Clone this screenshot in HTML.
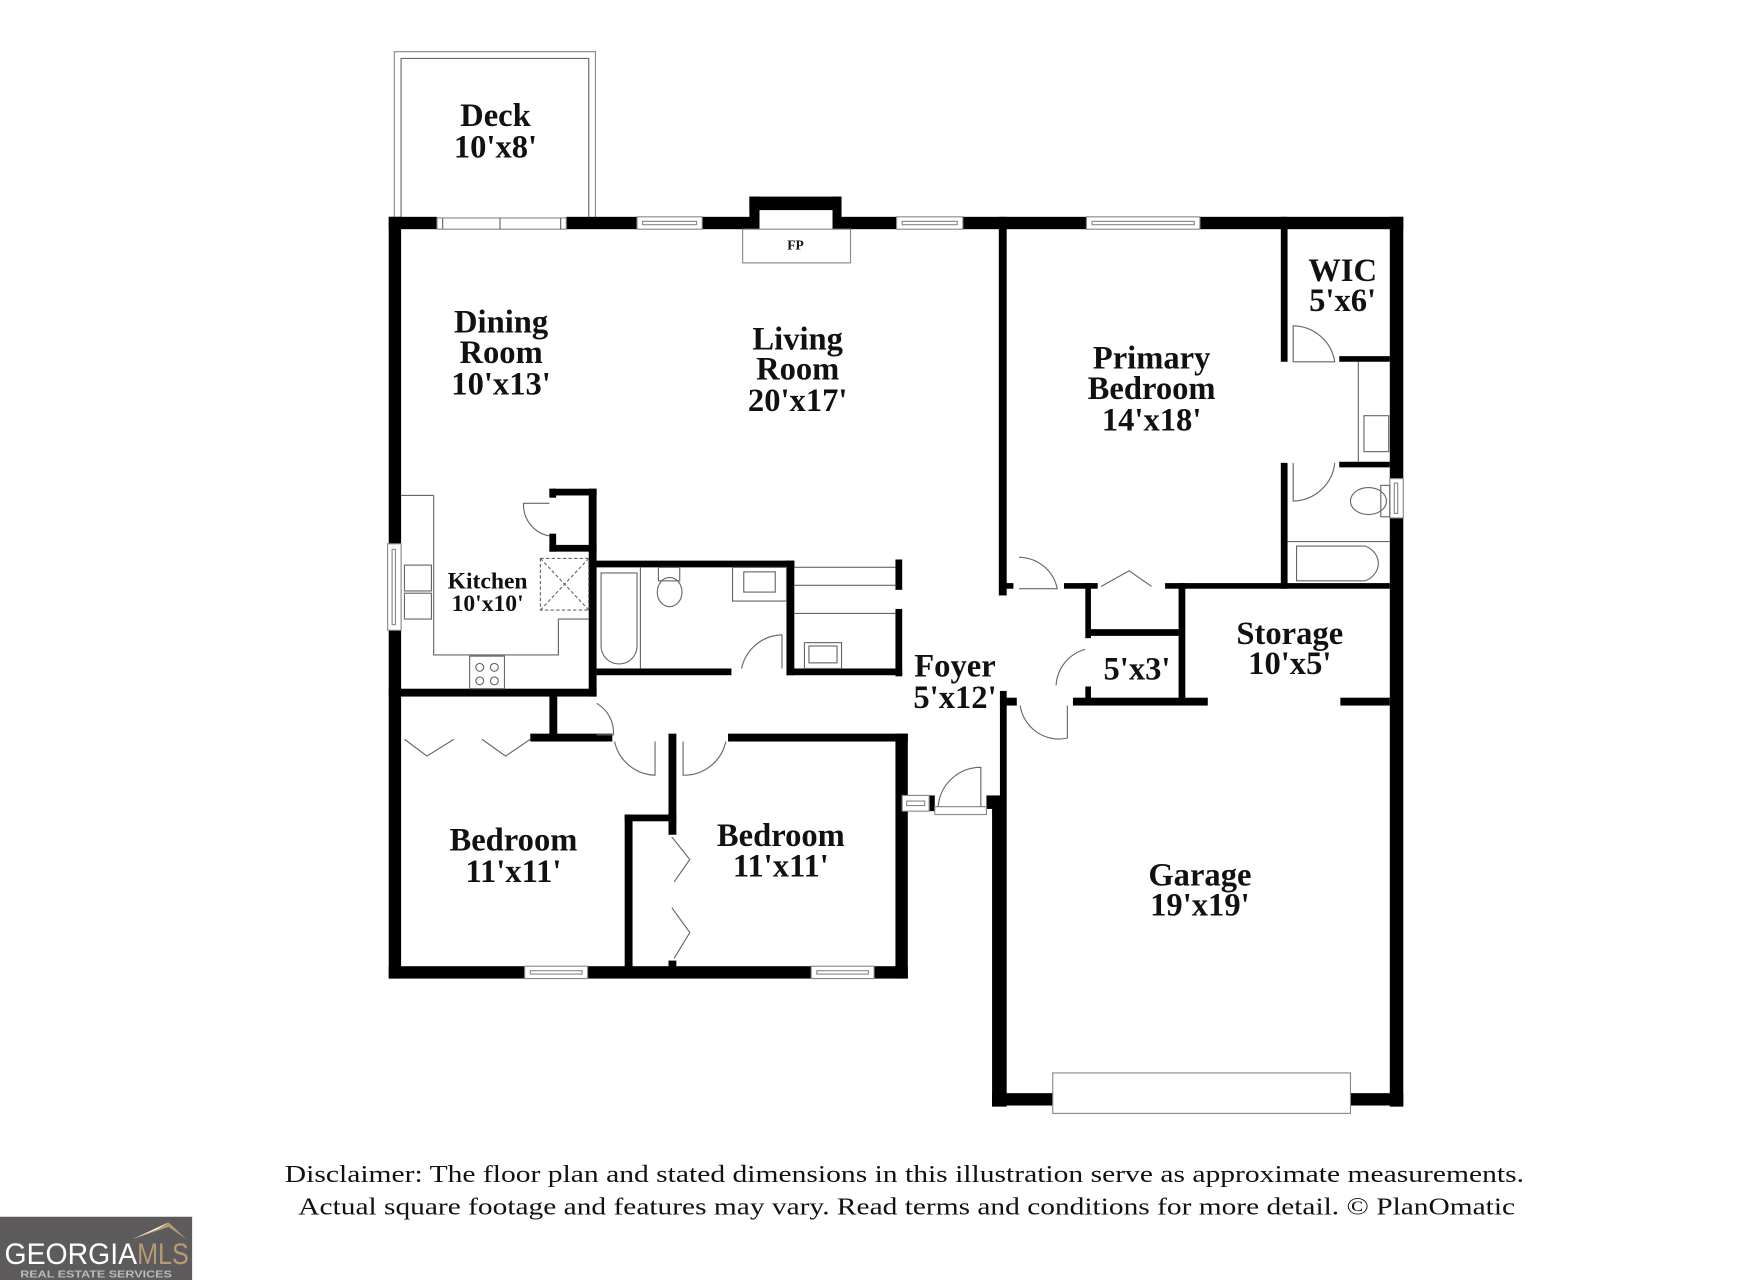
<!DOCTYPE html>
<html><head><meta charset="utf-8"><style>
html,body{margin:0;padding:0;background:#fff;width:1760px;height:1280px;overflow:hidden}
svg{display:block}
.t{font-family:"Liberation Serif",serif;font-weight:bold;fill:#111;text-anchor:middle}
.d{font-family:"Liberation Serif",serif;fill:#111;text-anchor:middle}
.f{fill:none;stroke:#666;stroke-width:1}
.w{fill:#fff;stroke:#888;stroke-width:1}
</style></head><body>
<svg width="1760" height="1280" viewBox="0 0 1566.5 1139.3" preserveAspectRatio="none" xmlns="http://www.w3.org/2000/svg">
<rect x="351" y="46" width="179" height="152" class="w"/>
<polyline points="357,198 357,52 524,52 524,198" class="f"/>
<g fill="#000">
<rect x="346" y="193" width="43" height="11"/>
<rect x="504" y="193" width="63" height="11"/>
<rect x="625" y="193" width="51" height="11"/>
<rect x="741" y="193" width="57" height="11"/>
<rect x="857" y="193" width="111" height="11"/>
<rect x="1068" y="193" width="181" height="11"/>
<rect x="667" y="175" width="82" height="12"/>
<rect x="667" y="175" width="9" height="29"/>
<rect x="741" y="175" width="8" height="29"/>
<rect x="346" y="193" width="11" height="678"/>
<rect x="346" y="860" width="462" height="11"/>
<rect x="797" y="653" width="11" height="218"/>
<rect x="472" y="653" width="73" height="7"/>
<rect x="648" y="653" width="160" height="7"/>
<rect x="595" y="653" width="7" height="90"/>
<rect x="595" y="855" width="7" height="8"/>
<rect x="556" y="725" width="46" height="6"/>
<rect x="556" y="725" width="7" height="140"/>
<rect x="489" y="619" width="7" height="35"/>
<rect x="346" y="613" width="185" height="7"/>
<rect x="524" y="435" width="7" height="185"/>
<rect x="489" y="435" width="42" height="6"/>
<rect x="489" y="435" width="6" height="8"/>
<rect x="489" y="485" width="42" height="6"/>
<rect x="489" y="475" width="6" height="16"/>
<rect x="524" y="499" width="183" height="6"/>
<rect x="700" y="499" width="7" height="102"/>
<rect x="531" y="595" width="120" height="6"/>
<rect x="700" y="595" width="103" height="6"/>
<rect x="797" y="498" width="6" height="27"/>
<rect x="797" y="542" width="6" height="60"/>
<rect x="889" y="193" width="7" height="337"/>
<rect x="895" y="519" width="7" height="5"/>
<rect x="947" y="519" width="30" height="5"/>
<rect x="1037" y="519" width="200" height="5"/>
<rect x="966" y="519" width="5" height="49"/>
<rect x="966" y="611" width="5" height="16"/>
<rect x="971" y="560" width="78" height="6"/>
<rect x="1049" y="519" width="6" height="108"/>
<rect x="890" y="621" width="15" height="7"/>
<rect x="955" y="621" width="120" height="7"/>
<rect x="1193" y="621" width="44" height="7"/>
<rect x="890" y="615" width="6" height="95"/>
<rect x="883" y="709" width="13" height="276"/>
<rect x="883" y="973" width="54" height="11"/>
<rect x="1202" y="973" width="47" height="11"/>
<rect x="1237" y="193" width="12" height="792"/>
<rect x="1140" y="193" width="6" height="129"/>
<rect x="1140" y="412" width="6" height="112"/>
<rect x="1192" y="317" width="45" height="5"/>
<rect x="1192" y="411" width="45" height="5"/>
<rect x="827" y="708" width="5" height="14"/>
<rect x="878" y="708" width="12" height="12"/>
</g>
<g>
<rect x="389" y="194" width="115" height="10" class="w"/><line x1="445" y1="194" x2="445" y2="204" class="f"/><line x1="394" y1="194" x2="394" y2="204" class="f"/><line x1="499" y1="194" x2="499" y2="204" class="f"/>
<rect x="567" y="193" width="58" height="11" class="w"/><rect x="572" y="197" width="48" height="3" class="w"/>
<rect x="798" y="193" width="59" height="11" class="w"/><rect x="803" y="197" width="49" height="3" class="w"/>
<rect x="967" y="193" width="101" height="11" class="w"/><rect x="972" y="197" width="91" height="3" class="w"/>
<rect x="345" y="484" width="12" height="77" class="w"/><rect x="349" y="489" width="3" height="67" class="w"/>
<rect x="467" y="860" width="56" height="11" class="w"/><rect x="472" y="864" width="46" height="3" class="w"/>
<rect x="722" y="860" width="56" height="11" class="w"/><rect x="727" y="864" width="46" height="3" class="w"/>
<rect x="1237" y="426" width="12" height="35" class="w"/><rect x="1241" y="430" width="3" height="27" class="w"/>
<rect x="803" y="708" width="24" height="14" class="w"/><rect x="807" y="713" width="16" height="4" class="w"/>
<rect x="832" y="718" width="46" height="7" class="w"/>
<rect x="937" y="955" width="265" height="36" class="w"/>
<rect x="661" y="204" width="96" height="30" class="w"/>
</g>
<g class="f">
<polyline points="386,441 386,583 497,583 497,551 524,551"/>
<line x1="357" y1="441" x2="386" y2="441"/>
<rect x="360" y="503" width="24" height="23"/><rect x="360" y="528" width="24" height="23"/>
<rect x="418" y="584" width="31" height="29"/>
<circle cx="427" cy="594" r="3.5"/><circle cx="440" cy="594" r="3.5"/><circle cx="427" cy="606" r="3.5"/><circle cx="440" cy="606" r="3.5"/>
<rect x="481" y="497" width="43" height="46" stroke-dasharray="3,2"/>
<line x1="481" y1="497" x2="524" y2="543" stroke-dasharray="3,2"/><line x1="524" y1="497" x2="481" y2="543" stroke-dasharray="3,2"/>
<path d="M489,448 L466,448 A28,28 0 0 0 489,477"/>
<line x1="570" y1="505" x2="570" y2="595"/>
<path d="M535,510 L567,510 L567,575 A16,16 0 0 1 535,575 Z"/>
<rect x="586" y="505" width="19" height="12"/><ellipse cx="596" cy="527" rx="11" ry="13"/>
<rect x="652" y="505" width="48" height="30"/><rect x="662" y="509" width="28" height="18"/>
<line x1="707" y1="505" x2="797" y2="505"/><line x1="707" y1="521" x2="797" y2="521"/><line x1="707" y1="546" x2="797" y2="546"/>
<rect x="716" y="572" width="33" height="23"/><rect x="720" y="575" width="25" height="15"/>
<path d="M660,595 A38,38 0 0 1 696,565 L696,595"/>
<path d="M531,626 A30,30 0 0 1 546,654 L531,654"/>
<path d="M547,660 A38,38 0 0 0 583,690 L583,660"/>
<path d="M646,660 A38,38 0 0 1 608,690 L608,660"/>
<polyline points="360,658 380,673 404,658"/><polyline points="429,658 450,673 472,658"/>
<polyline points="598,745 614,765 600,785"/><polyline points="598,808 614,830 600,853"/>
<path d="M835,718 A38,38 0 0 1 873,683 L873,718"/>
<path d="M907,496 A35,35 0 0 1 941,524 L907,524"/>
<polyline points="980,522 1005,508 1025,522"/>
<path d="M940,610 A35,35 0 0 1 966,578"/>
<path d="M908,628 A35,35 0 0 0 950,657 L950,628"/>
<path d="M1151,290 A38,38 0 0 1 1188,322 L1151,322 Z"/>
<path d="M1151,412 L1151,446 A38,38 0 0 0 1188,412"/>
<line x1="1209" y1="322" x2="1209" y2="411"/>
<rect x="1214" y="370" width="22" height="32"/>
<ellipse cx="1218" cy="446" rx="16" ry="12"/><rect x="1229" y="432" width="8" height="28"/>
<line x1="1146" y1="482" x2="1237" y2="482"/>
<path d="M1154,486 L1215,486 A20,17 0 0 1 1215,517 L1154,517 Z"/>
</g>
<g class="t" font-size="29">
<text x="441" y="112">Deck</text><text x="441" y="140">10'x8'</text>
<text x="446" y="296">Dining</text><text x="446" y="323">Room</text><text x="446" y="351">10'x13'</text>
<text x="710" y="311">Living</text><text x="710" y="338">Room</text><text x="710" y="366">20'x17'</text>
<text x="1025" y="328">Primary</text><text x="1025" y="355">Bedroom</text><text x="1025" y="383">14'x18'</text>
<text x="1195" y="250">WIC</text><text x="1195" y="277">5'x6'</text>
<text x="850" y="602">Foyer</text><text x="850" y="630">5'x12'</text>
<text x="1012" y="605">5'x3'</text>
<text x="1148" y="573">Storage</text><text x="1148" y="600">10'x5'</text>
<text x="457" y="757">Bedroom</text><text x="457" y="785">11'x11'</text>
<text x="695" y="753">Bedroom</text><text x="695" y="780">11'x11'</text>
<text x="1068" y="788">Garage</text><text x="1068" y="815">19'x19'</text>
</g>
<text class="t" font-size="21" x="434" y="524">Kitchen</text>
<text class="t" font-size="21" x="434" y="544">10'x10'</text>
<text class="t" font-size="12" x="708" y="222">FP</text>
<text class="d" font-size="22" x="805" y="1052" textLength="1103" lengthAdjust="spacingAndGlyphs">Disclaimer: The floor plan and stated dimensions in this illustration serve as approximate measurements.</text>
<text class="d" font-size="22" x="807" y="1081" textLength="1083" lengthAdjust="spacingAndGlyphs">Actual square footage and features may vary. Read terms and conditions for more detail. © PlanOmatic</text>
<rect x="0" y="1083" width="171" height="57" fill="#5d5b5c"/>
<polygon points="118,1103 150,1088 166,1103 150,1092" fill="#b59b72"/>
<polygon points="118,1103 150,1088 140,1094" fill="#fff"/>
<text x="4" y="1125" font-family="Liberation Sans,sans-serif" font-size="26" fill="#fff" textLength="118" lengthAdjust="spacingAndGlyphs">GEORGIA</text>
<text x="122" y="1125" font-family="Liberation Sans,sans-serif" font-size="26" fill="#b59b72" textLength="46" lengthAdjust="spacingAndGlyphs">MLS</text>
<text x="18" y="1137" font-family="Liberation Sans,sans-serif" font-size="9" font-weight="bold" fill="#bbb" textLength="135" lengthAdjust="spacingAndGlyphs">REAL ESTATE SERVICES</text>
</svg>
</body></html>
